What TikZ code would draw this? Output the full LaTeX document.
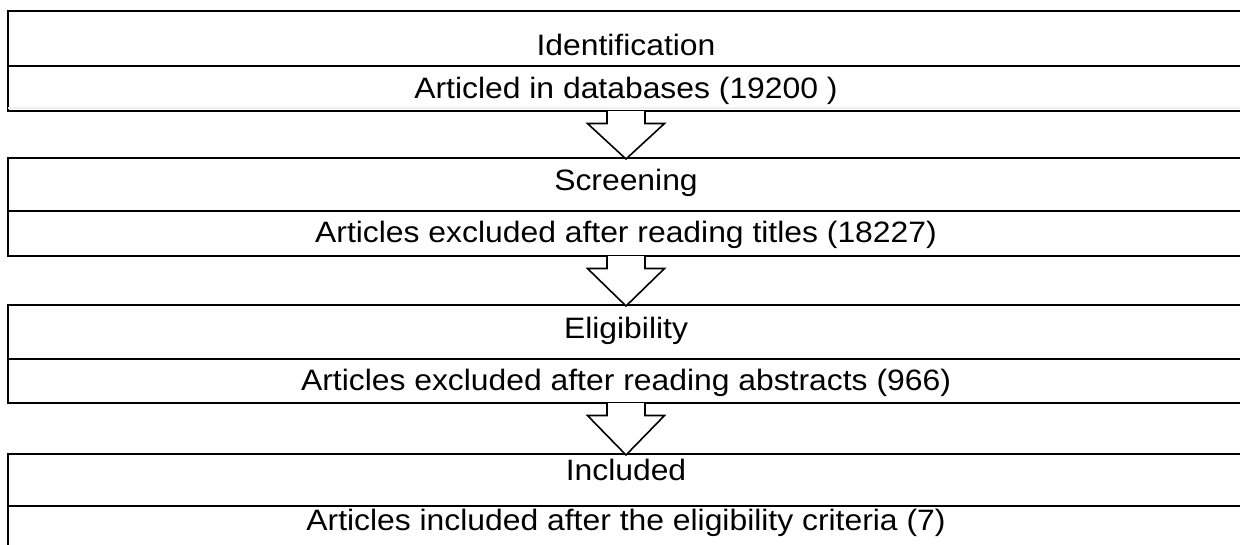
\documentclass[tikz,border=0pt]{standalone}
\usepackage{fontspec}
\setmainfont{Liberation Sans}[FakeStretch=1.08]
\begin{document}
\begin{tikzpicture}[x=1pt,y=-1pt,
  box/.style={draw=black, line width=1.6pt, rectangle, anchor=north west, minimum width=1236pt, inner sep=0pt, outer sep=0pt},
  divline/.style={draw=black, line width=1.6pt},
  blockarrow/.style={draw=black, fill=white, line width=1.6pt, line join=miter},
  lbl/.style={font=\fontsize{29.5}{32}\selectfont, anchor=base, inner sep=0pt, text=black}]
\useasboundingbox (0,0) rectangle (1240,544);
% boxes
\node[box, minimum height=100pt] (b1) at (8,11) {};
\node[box, minimum height=98pt] (b2) at (8,158) {};
\node[box, minimum height=98pt] (b3) at (8,305) {};
\node[box, minimum height=110pt] (b4) at (8,454) {};
% faint band above first box bottom
\draw[gray!12, line width=2.5pt] ([yshift=3pt]b1.south west) -- ([yshift=3pt]b1.south east);
% dividers
\draw[divline] (b1.west |- 0,66) -- (b1.east |- 0,66);
\draw[divline] (b2.west |- 0,211) -- (b2.east |- 0,211);
\draw[divline] (b3.west |- 0,359) -- (b3.east |- 0,359);
\draw[divline] (b4.west |- 0,506) -- (b4.east |- 0,506);
% block arrows
\foreach \a/\b in {b1/b2, b2/b3, b3/b4}{
  \draw[blockarrow] ([xshift=-19pt]\a.south) -- ([xshift=-19pt,yshift=-12.5pt]\a.south)
    -- ([xshift=-38.5pt,yshift=-12.5pt]\a.south) -- ([yshift=-1pt]\b.north)
    -- ([xshift=38.5pt,yshift=-12.5pt]\a.south) -- ([xshift=19pt,yshift=-12.5pt]\a.south)
    -- ([xshift=19pt]\a.south);
}
% labels
\node[lbl] (t1) at (626,55.5) {Identification};
\node[lbl] (t2) at (626,98.5) {Articled in databases (19200 )};
\node[lbl] (t3) at (626,190.5) {Screening};
\node[lbl] (t4) at (626,242) {Articles excluded after reading titles (18227)};
\node[lbl] (t5) at (626,338.5) {Eligibility};
\node[lbl] (t6) at (626,390.5) {Articles excluded after reading abstracts (966)};
\node[lbl] (t7) at (626,480.5) {Included};
\node[lbl] (t8) at (626,530) {Articles included after the eligibility criteria (7)};
\end{tikzpicture}
\end{document}
